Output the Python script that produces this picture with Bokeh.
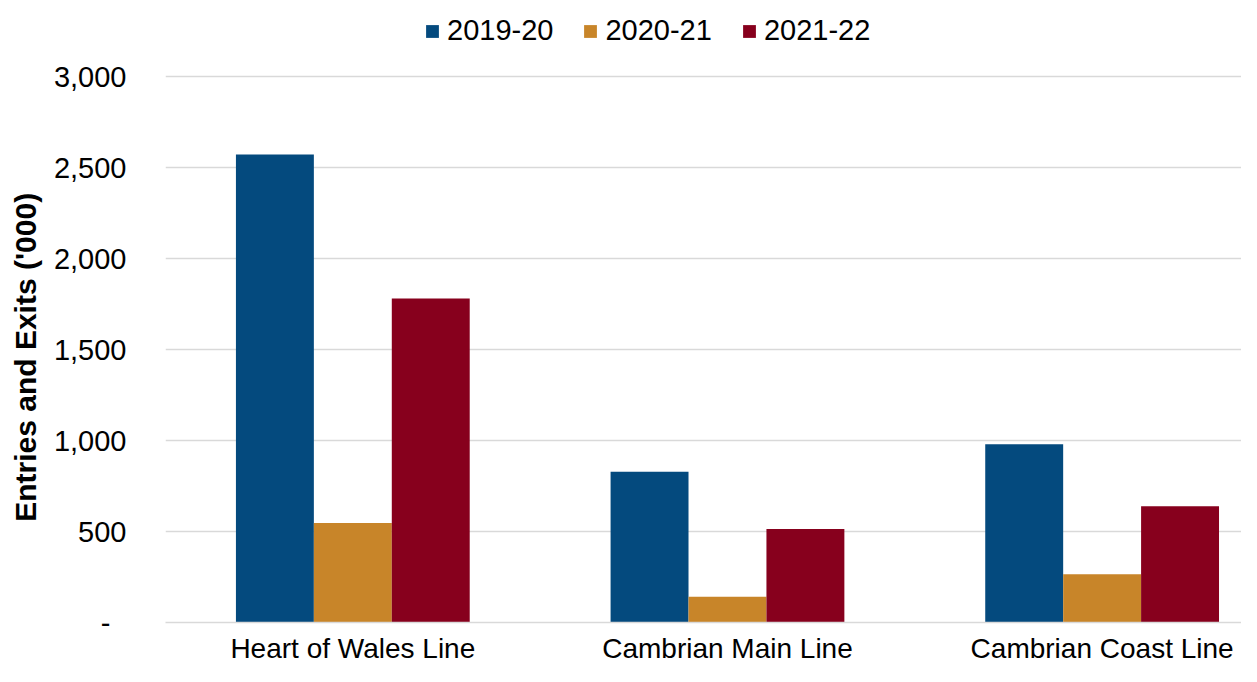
from bokeh.plotting import figure
from bokeh.models import Range1d, FixedTicker, Legend, LegendItem, NumeralTickFormatter
from bokeh.embed import file_html
from bokeh.resources import INLINE
import numpy as np

categories = ["Heart of Wales Line", "Cambrian Main Line", "Cambrian Coast Line"]
series_names = ["2019-20", "2020-21", "2021-22"]
v2019_20 = [2572, 828, 980]
v2020_21 = [547, 141, 265]
v2021_22 = [1781, 514, 639]
colors = ["#044A7E", "#C88529", "#87001D"]
y_ticks = [0, 500, 1000, 1500, 2000, 2500, 3000]
y_title = "Entries and Exits ('000)"

FONT = "Liberation Sans"

p = figure(width=1241, height=666, output_backend="svg", toolbar_location=None,
           x_range=Range1d(0, 2.872), y_range=Range1d(0, 3418),
           min_border_left=165, min_border_right=0, min_border_top=0, min_border_bottom=44)
p.outline_line_color = None

centers = np.arange(len(categories)) + 0.5
bw = 0.208
renderers = []
for i, (vals, col) in enumerate(zip([v2019_20, v2020_21, v2021_22], colors)):
    r = p.vbar(x=centers + (i - 1) * bw, top=vals, width=bw, fill_color=col, line_color=None)
    renderers.append(r)

p.xgrid.grid_line_color = None
p.ygrid.grid_line_color = "#d9d9d9"
p.ygrid.grid_line_width = 1.5
p.ygrid.ticker = FixedTicker(ticks=y_ticks)

p.yaxis.ticker = FixedTicker(ticks=y_ticks)
p.yaxis.formatter = NumeralTickFormatter(format="0,0")
p.yaxis.major_label_overrides = {0: "-\u00a0\u00a0"}
p.yaxis.axis_line_color = None
p.yaxis.major_tick_line_color = None
p.yaxis.minor_tick_line_color = None
p.yaxis.major_label_standoff = 33
p.yaxis.major_label_text_font = FONT
p.yaxis.major_label_text_font_size = "29px"
p.yaxis.major_label_text_color = "#000000"
# trailing no-break spaces keep the title centred on the 0-3,000 band rather than the whole frame
p.yaxis.axis_label = y_title + "\u00a0" * 11
p.yaxis.axis_label_text_font = FONT
p.yaxis.axis_label_text_font_style = "bold"
p.yaxis.axis_label_text_font_size = "30px"
p.yaxis.axis_label_text_color = "#000000"
p.yaxis.axis_label_standoff = 9

p.xaxis.ticker = FixedTicker(ticks=list(centers))
p.xaxis.major_label_overrides = {float(c): cat for c, cat in zip(centers, categories)}
p.xaxis.axis_line_color = "#d9d9d9"
p.xaxis.axis_line_width = 1.5
p.xaxis.major_tick_line_color = None
p.xaxis.minor_tick_line_color = None
p.xaxis.major_label_standoff = 4
p.xaxis.major_label_text_font = FONT
p.xaxis.major_label_text_font_size = "28px"
p.xaxis.major_label_text_color = "#000000"

legend = Legend(items=[LegendItem(label=n, renderers=[r]) for n, r in zip(series_names, renderers)],
                orientation="horizontal", location=(259, 575))
legend.label_text_font = FONT
legend.label_text_font_size = "29px"
legend.label_text_color = "#000000"
legend.glyph_width = 16
legend.glyph_height = 16
legend.label_standoff = 7
legend.spacing = 29
legend.border_line_color = None
legend.background_fill_alpha = 0
legend.margin = 0
legend.padding = 4
p.add_layout(legend)

open("out.html", "w").write(file_html(p, INLINE))
